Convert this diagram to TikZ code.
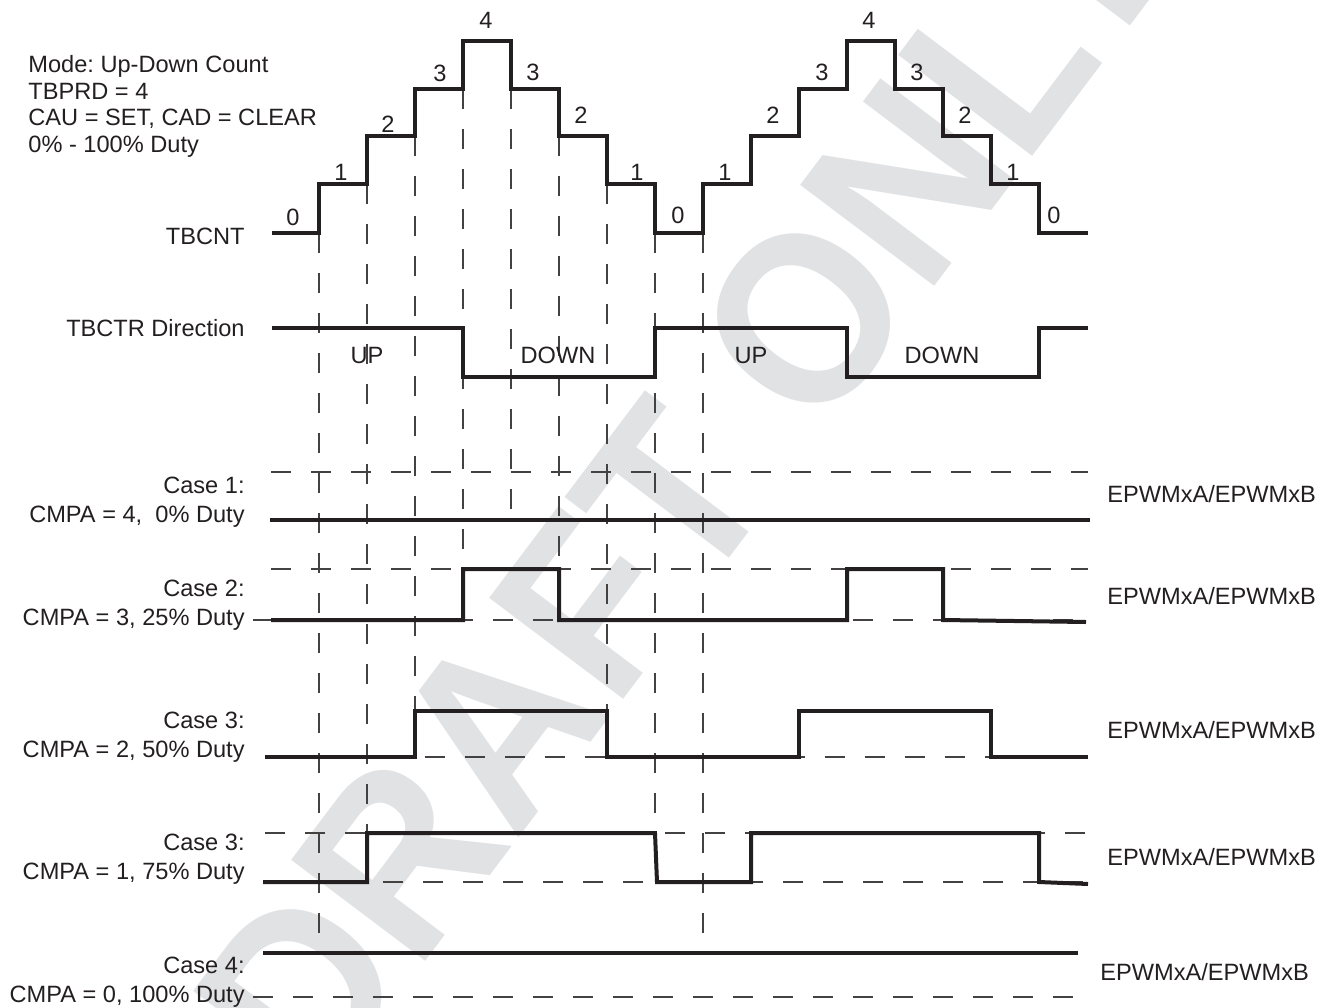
\documentclass[tikz,border=0pt]{standalone}
\usepackage{fontspec}
\setmainfont{Liberation Sans}
\usepackage{tikz}
\frenchspacing

\definecolor{ink}{RGB}{35,31,32}
\definecolor{wmgray}{RGB}{225,226,228}

\begin{document}
\begin{tikzpicture}[x=0.5pt, y=-0.5pt,
      font=\fontsize{11.8}{13.35}\selectfont,
      wave/.style={draw=ink, line width=2pt},
      ref/.style={draw=ink!85, line width=0.65pt, dash pattern=on 10pt off 10pt},
      lbl/.style={inner sep=0pt, text=ink},
      caselbl/.style={lbl, align=right, anchor=north east, font=\fontsize{11.8}{14.2}\selectfont},
      outlbl/.style={lbl, anchor=base west},
    ]
    \useasboundingbox (0,0) rectangle (1328,1007);

    % Watermark
    \begin{scope}
      \clip (0,0) rectangle (1328,1007);
      \node[text=wmgray, rotate=53, font=\fontsize{122}{122}\selectfont\bfseries] (draft) at (685,478)
        {\scalebox{0.93}[1]{DRAFT ONLY}};
    \end{scope}

    % Settings
    \node[lbl, align=left, anchor=north west] (mode) at (28,55)
      {Mode: Up-Down Count\\TBPRD = 4\\CAU = SET, CAD = CLEAR\\0\% - 100\% Duty};

    % Event markers
    \foreach \x/\top/\bot in {319/233/935, 367/184/833, 415/136/711, 463/89/569, 511/89/520,
                              559/136/569, 607/184/711, 655/233/833, 703/233/953}
      \draw[ref] (\x,\top) -- (\x,\bot);

    % TBCNT
    \node[lbl, anchor=east] (tbcnt) at (245,236) {TBCNT};
    \draw[wave] (272,233) -- (319,233) -- (319,184) -- (367,184) -- (367,136) -- (415,136)
      -- (415,89) -- (463,89) -- (463,41) -- (511,41) -- (511,89) -- (559,89) -- (559,136)
      -- (607,136) -- (607,184) -- (655,184) -- (655,233) -- (703,233) -- (703,184)
      -- (751,184) -- (751,136) -- (799,136) -- (799,89) -- (847,89) -- (847,41) -- (895,41)
      -- (895,89) -- (943,89) -- (943,136) -- (991,136) -- (991,184) -- (1039,184)
      -- (1039,233) -- (1088,233);
    \foreach \x/\y/\n in {293/225/0, 341/180/1, 388/132/2, 440/81/3, 486/28/4, 533/80/3,
                          581/123/2, 637/180/1, 678/223/0, 725/180/1, 773/123/2, 822/80/3,
                          869/28/4, 917/80/3, 965/123/2, 1013/180/1, 1054/223/0}
      \node[lbl, anchor=base] (cnt-\x) at (\x,\y) {\n};

    % TBCTR Direction
    \node[lbl, anchor=east] (dir) at (245,328) {TBCTR Direction};
    \draw[wave] (272,328) -- (463,328) -- (463,377) -- (655,377) -- (655,328) -- (847,328)
      -- (847,377) -- (1039,377) -- (1039,328) -- (1088,328);
    \node[lbl] (up1) at (367,355) {UP};
    \node[lbl] (down1) at (558,355) {DOWN};
    \node[lbl] (up2) at (751,355) {UP};
    \node[lbl] (down2) at (942,355) {DOWN};

    % Case 1
    \node[caselbl] (case1) at (245,477) {Case 1:\\CMPA = 4,\ \ 0\% Duty};
    \draw[ref] (271,472) -- (1088,472);
    \draw[wave] (270,520) -- (1090,520);
    \node[outlbl] (out1) at (1107,502) {EPWMxA/EPWMxB};

    % Case 2
    \node[caselbl] (case2) at (245,580) {Case 2:\\CMPA = 3, 25\% Duty};
    \draw[ref] (271,569) -- (1088,569);
    \draw[ref] (253,620) -- (1088,620);
    \draw[wave] (271,620) -- (463,620) -- (463,569) -- (559,569) -- (559,620) -- (847,620)
      -- (847,569) -- (943,569) -- (943,620) -- (1086,622);
    \node[outlbl] (out2) at (1107,604) {EPWMxA/EPWMxB};

    % Case 3
    \node[caselbl] (case3) at (245,712) {Case 3:\\CMPA = 2, 50\% Duty};
    \draw[ref] (265,757) -- (1088,757);
    \draw[wave] (265,757) -- (415,757) -- (415,711) -- (607,711) -- (607,757) -- (799,757)
      -- (799,711) -- (991,711) -- (991,757) -- (1088,757);
    \node[outlbl] (out3) at (1107,738) {EPWMxA/EPWMxB};

    % Case 3 (75%)
    \node[caselbl] (case3b) at (245,834) {Case 3:\\CMPA = 1, 75\% Duty};
    \draw[ref] (265,833) -- (1088,833);
    \draw[ref] (263,882) -- (1088,882);
    \draw[wave] (263,882) -- (367,882) -- (367,833) -- (655,833) -- (657,882) -- (751,882)
      -- (751,833) -- (1039,833) -- (1039,882) -- (1088,884);
    \node[outlbl] (out4) at (1107,865) {EPWMxA/EPWMxB};

    % Case 4
    \node[caselbl] (case4) at (245,957) {Case 4:\\CMPA = 0, 100\% Duty};
    \draw[ref] (253,997) -- (1075,997);
    \draw[wave] (263,953) -- (1078,953);
    \node[outlbl] (out5) at (1100,980) {EPWMxA/EPWMxB};

  \end{tikzpicture}
\end{document}
